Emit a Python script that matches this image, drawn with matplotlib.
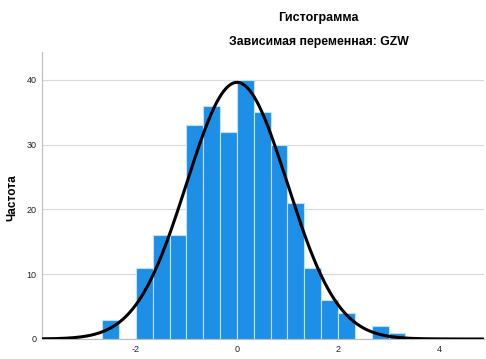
import numpy as np
import matplotlib.pyplot as plt

plt.rcParams['font.family'] = ['Liberation Sans', 'DejaVu Sans']
plt.rcParams['axes.unicode_minus'] = False

# histogram of standardized residuals (bin width 1/3)
bin_left = [-8, -6, -5, -4, -3, -2, -1, 0, 1, 2, 3, 4, 5, 6, 8, 9]   # in units of 1/3
counts = [3, 11, 16, 16, 33, 36, 32, 40, 35, 30, 21, 11, 6, 4, 2, 1]
bin_width = 1 / 3

# normal curve parameters
mean = 0.0
std = 0.997
n = 297

title1 = 'Гистограмма'
title2 = 'Зависимая переменная: GZW'
ylabel = 'Частота'

fig = plt.figure(figsize=(4.86, 3.59), dpi=100)
ax = fig.add_axes([42 / 486, 1 - 339 / 359, 442 / 486, 287 / 359])

lefts = np.array(bin_left) * bin_width
ax.bar(lefts, counts, width=bin_width, align='edge', color='#1E8FE6',
       edgecolor='#BFE3FF', linewidth=0.8, zorder=2)

xs = np.linspace(-3.86, 4.88, 400)
ys = n * bin_width * np.exp(-0.5 * ((xs - mean) / std) ** 2) / (std * np.sqrt(2 * np.pi))
ax.plot(xs, ys, color='black', lw=2.2, zorder=3)

ax.set_xlim(-3.86, 4.89)
ax.set_ylim(0, 44.3)
ax.set_xticks([-2, 0, 2, 4])
ax.set_yticks([0, 10, 20, 30, 40])
ax.grid(axis='y', color='#D9D9D9', lw=0.8, zorder=0)
ax.set_axisbelow(True)
for s in ['top', 'right']:
    ax.spines[s].set_visible(False)
ax.spines['left'].set_color('#BBBBBB')
ax.spines['bottom'].set_color('#BBBBBB')
ax.tick_params(length=0, labelsize=6.5, colors='#222222', pad=4)

fig.text(12 / 486, 1 - 198 / 359, ylabel, rotation=90, ha='center', va='center',
         fontsize=8.5, fontweight='bold')

fig.text(0.656, 1 - 18 / 359, title1, ha='center', va='center', fontsize=9, fontweight='bold')
fig.text(0.656, 1 - 42 / 359, title2, ha='center', va='center', fontsize=8.8, fontweight='bold')

fig.savefig('out.png', dpi=100)
